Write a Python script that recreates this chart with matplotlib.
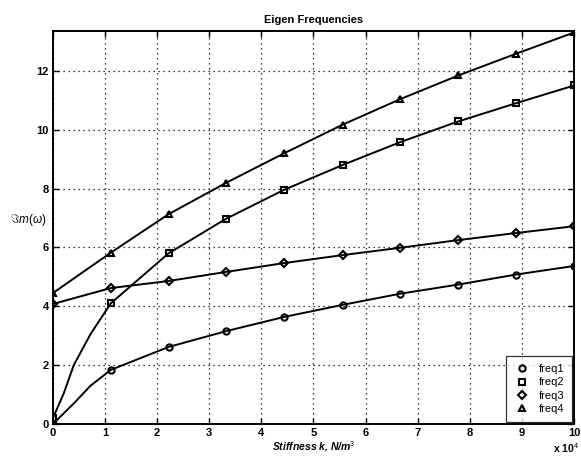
import matplotlib
matplotlib.use("Agg")
import matplotlib.pyplot as plt

plt.rcParams['font.family'] = ['Liberation Sans', 'DejaVu Sans']
plt.rcParams['mathtext.fontset'] = 'custom'
plt.rcParams['mathtext.it'] = 'Liberation Sans:italic'
plt.rcParams['mathtext.rm'] = 'Liberation Sans'

# Stiffness values (x 10^4 N/m^3) where the markers sit
k_marks = [0.0, 1.11, 2.22, 3.33, 4.44, 5.56, 6.67, 7.78, 8.89, 10.0]

# Imaginary part of the eigen frequencies at those stiffness values
freq1 = [0.0, 1.84, 2.62, 3.16, 3.64, 4.05, 4.43, 4.74, 5.08, 5.37]
freq2 = [0.2, 4.10, 5.80, 6.98, 7.96, 8.80, 9.58, 10.28, 10.90, 11.50]
freq3 = [4.08, 4.62, 4.86, 5.17, 5.47, 5.74, 5.99, 6.25, 6.49, 6.72]
freq4 = [4.45, 5.82, 7.13, 8.20, 9.20, 10.17, 11.04, 11.84, 12.58, 13.30]

# Extra samples along the steep start of the two lowest curves
k_start = [0.21, 0.40, 0.72]
freq1_start = [0.37, 0.70, 1.30]
freq2_start = [1.05, 2.00, 3.05]

x_ticks = [0, 1, 2, 3, 4, 5, 6, 7, 8, 9, 10]
y_ticks = [0, 2, 4, 6, 8, 10, 12]


def merged(k_extra, v_extra, k_main, v_main):
    pts = sorted(zip(list(k_main) + list(k_extra), list(v_main) + list(v_extra)))
    return [p[0] for p in pts], [p[1] for p in pts]


fig = plt.figure(figsize=(5.81, 4.63), dpi=100)
ax = fig.add_axes([0.091, 0.084, 0.897, 0.849])

series = [
    ("freq1", freq1, "o", (k_start, freq1_start)),
    ("freq2", freq2, "s", (k_start, freq2_start)),
    ("freq3", freq3, "D", None),
    ("freq4", freq4, "^", None),
]

for name, vals, mk, extra in series:
    if extra is not None:
        kx, vy = merged(extra[0], extra[1], k_marks, vals)
    else:
        kx, vy = k_marks, vals
    ax.plot(kx, vy, color="black", lw=1.4, zorder=3)
    ax.plot(k_marks, vals, linestyle="none", marker=mk,
            ms=4.5 if mk != "D" else 3.8, mfc="none", mec="black",
            mew=1.5, color="black", label=name, zorder=4)

ax.set_xlim(0, 10)
ax.set_ylim(0, 13.35)
ax.set_xticks(x_ticks)
ax.set_yticks(y_ticks)
ax.tick_params(direction="in", length=4, width=1, labelsize=8, pad=3,
               top=True, right=True)
for lbl in ax.get_xticklabels() + ax.get_yticklabels():
    lbl.set_fontweight("bold")

ax.grid(True, color="black", linestyle=(0, (1, 3)), linewidth=0.9)
for sp in ax.spines.values():
    sp.set_linewidth(1.4)

ax.set_title("Eigen Frequencies", fontsize=8, fontweight="bold", pad=6)
ax.set_xlabel(r"Stiffness k, N/m$^3$", fontsize=7.5, style="italic",
              fontweight="bold", labelpad=1)
fig.text(0.081, 0.525, r"$\Im m(\omega)$", fontsize=8.5, ha="right",
         va="center", style="italic")
fig.text(0.952, 0.022, r"x 10$^4$", fontsize=7.5, fontweight="bold")

leg = ax.legend(loc="lower right", fontsize=8, frameon=True, fancybox=False,
                handletextpad=0.7, borderpad=0.75, labelspacing=0.3,
                handlelength=1.5, borderaxespad=0.15)
leg.get_frame().set_edgecolor("black")
leg.get_frame().set_linewidth(0.9)

fig.savefig("out.png", dpi=100)
